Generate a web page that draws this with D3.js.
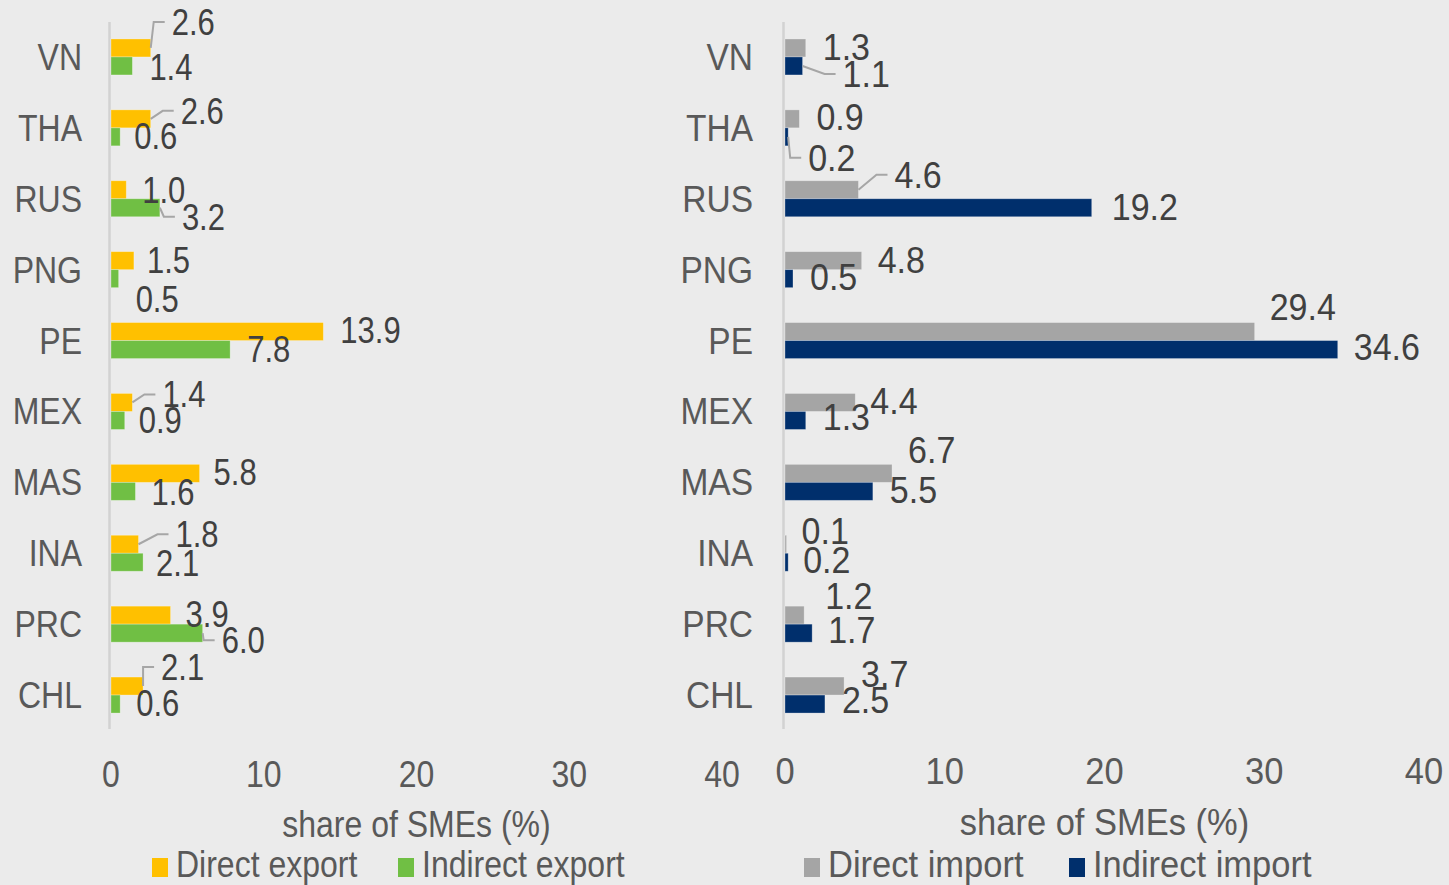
<!DOCTYPE html>
<html>
<head>
<meta charset="utf-8">
<script src="https://cdn.jsdelivr.net/npm/d3@7"></script>
<style>
html,body{margin:0;padding:0;background:#ebebeb;}
svg{display:block;font-family:"Liberation Sans",Arial,sans-serif;}
</style>
</head>
<body>
<svg id="chart" width="1449" height="885"></svg>
<script>
// ---- data ----
const categories = ["VN","THA","RUS","PNG","PE","MEX","MAS","INA","PRC","CHL"];
const directExport   = [2.6, 2.6, 1.0, 1.5, 13.9, 1.4, 5.8, 1.8, 3.9, 2.1];
const indirectExport = [1.4, 0.6, 3.2, 0.5, 7.8, 0.9, 1.6, 2.1, 6.0, 0.6];
const directImport   = [1.3, 0.9, 4.6, 4.8, 29.4, 4.4, 6.7, 0.1, 1.2, 3.7];
const indirectImport = [1.1, 0.2, 19.2, 0.5, 34.6, 1.3, 5.5, 0.2, 1.7, 2.5];
const xTicks = [0, 10, 20, 30, 40];
const axisTitle = "share of SMEs (%)";
const exportSeries = ["Direct export", "Indirect export"];
const importSeries = ["Direct import", "Indirect import"];

// label nudges [dx from bar end, dy from bar centre to baseline]
const dirExpOff = [[21,-13],[30,5],[16,13],[13,12],[17,11],[30,5],[14,12],[37,3],[15,12],[18,-6]];
const indExpOff = [[17,14],[14,12],[22,22],[17,33],[17,12],[14,12.5],[16,14],[13,14],[19,20],[16,12]];
const dirImpOff = [[17,12],[17,11],[36,-2],[16,12],[15,-12],[15,11.5],[16,-10],[15,0],[21,-6],[17,1]];
const indImpOff = [[40,21],[20,34],[20,12],[17,11],[16,10],[17,10],[17,12],[15,11],[16,10],[17,9]];
const dirExpLeader = [0,1,5,7,9];
const indExpLeader = [2,8];
const dirImpLeader = [2];
const indImpLeader = [0,1];

const svg = d3.select("#chart");

function txt(g, x, y, s, opts) {
  opts = opts || {};
  return g.append("text")
    .attr("transform", `translate(${x},${y}) scale(1,${opts.sy || 1.17})`)
    .attr("text-anchor", opts.anchor || "start")
    .attr("font-size", opts.size || 32)
    .attr("fill", opts.fill || "#595959")
    .text(s);
}

const yRow = d3.scaleBand().domain(categories).range([21.5, 730.5])
  .paddingInner(0.4922).paddingOuter(0.2461);

function panel(cfg) {
  const g = svg.append("g");
  const x = d3.scaleLinear().domain([0, 40]).range(cfg.xr);
  const ySub = d3.scaleBand().domain([0, 1]).range([0, yRow.bandwidth()]);
  const series = [cfg.a, cfg.b];
  const f = cfg.font;

  // axis line
  g.append("line").attr("x1", x(0) - 1.5).attr("x2", x(0) - 1.5)
    .attr("y1", 22).attr("y2", 729).attr("stroke", "#d2d2d2").attr("stroke-width", 2.5);

  // category labels
  categories.forEach(c => {
    txt(g, cfg.catX, yRow(c) + yRow.bandwidth() / 2 + 13, c,
        {anchor: "end", size: f.cat[0], sy: f.cat[1]});
  });

  // bars
  series.forEach((vals, si) => {
    vals.forEach((v, i) => {
      const c = categories[i];
      const y0 = yRow(c) + ySub(si);
      g.append("rect").attr("x", x(0)).attr("y", y0)
        .attr("width", x(v) - x(0)).attr("height", ySub.bandwidth())
        .attr("fill", cfg.colors[si])
        .attr("stroke", "rgba(255,255,255,0.35)").attr("stroke-width", 0.8);
    });
  });
  // value labels
  series.forEach((vals, si) => {
    const off = cfg.offs[si], leaders = cfg.leaders[si];
    vals.forEach((v, i) => {
      const c = categories[i];
      const cy = yRow(c) + ySub(si) + ySub.bandwidth() / 2;
      const lx = x(v) + off[i][0], ly = cy + off[i][1];
      if (leaders.includes(i)) {
        const mid = ly - 13;
        g.append("path")
          .attr("d", d3.line()([[x(v), cy], [lx - 18, mid], [lx - 7, mid]]))
          .attr("fill", "none").attr("stroke", "#a6a6a6").attr("stroke-width", 2);
      }
      txt(g, lx, ly, v.toFixed(1), {size: f.lab[0], sy: f.lab[1], fill: "#404040"});
    });
  });

  // ticks
  xTicks.forEach(t => txt(g, x(t), cfg.tickY, String(t),
      {anchor: "middle", size: f.misc[0], sy: f.misc[1]}));
  // axis title
  txt(g, x(20), cfg.titleY, axisTitle, {anchor: "middle", size: f.misc[0], sy: f.misc[1]});

  // legend
  cfg.legend.forEach((name, li) => {
    const lx = cfg.legendX[li];
    g.append("rect").attr("x", lx).attr("y", 858).attr("width", 16).attr("height", 19)
      .attr("fill", cfg.colors[li]);
    txt(g, lx + 24, 877, name, {size: f.misc[0], sy: f.misc[1]});
  });
}

panel({
  xr: [111, 722], catX: 82, a: directExport, b: indirectExport,
  colors: ["#FFC000", "#70BF44"], offs: [dirExpOff, indExpOff],
  leaders: [dirExpLeader, indExpLeader], tickY: 787, titleY: 837,
  legend: exportSeries, legendX: [152, 398],
  font: {cat: [32, 1.17], lab: [31, 1.17], misc: [32, 1.17]}
});
panel({
  xr: [785, 1424], catX: 753, a: directImport, b: indirectImport,
  colors: ["#A5A5A5", "#002F6C"], offs: [dirImpOff, indImpOff],
  leaders: [dirImpLeader, indImpLeader], tickY: 784, titleY: 835,
  legend: importSeries, legendX: [804, 1069],
  font: {cat: [33.5, 1.12], lab: [34, 1.07], misc: [34.5, 1.09]}
});
</script>
</body>
</html>
